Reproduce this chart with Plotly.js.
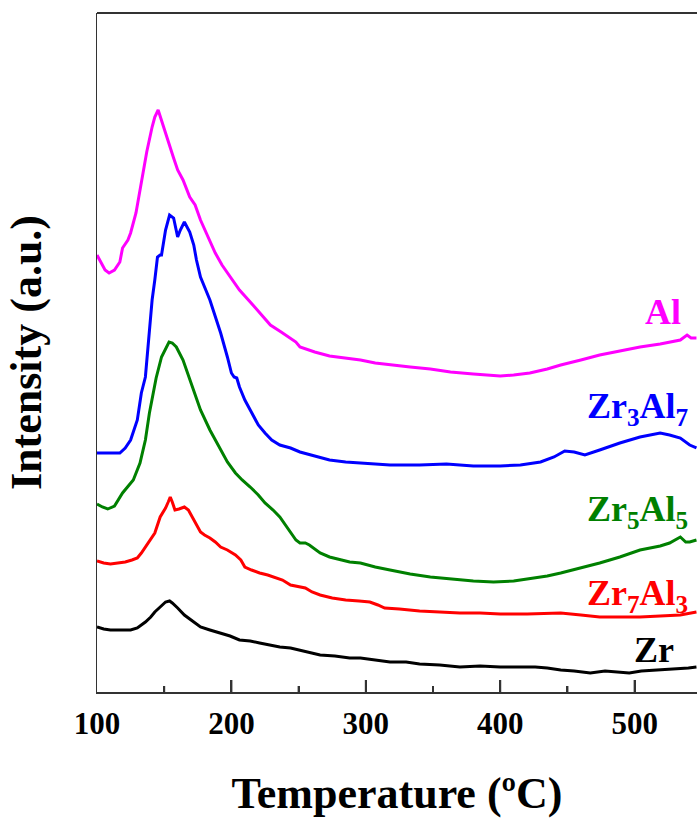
<!DOCTYPE html>
<html>
<head>
<meta charset="utf-8">
<script src="https://cdn.plot.ly/plotly-3.0.1.min.js"></script>
<style>html,body{margin:0;padding:0;background:#fff;}#chart{width:697px;height:823px;}</style>
</head>
<body>
<div id="chart"></div>
<script>
// Temperature (ºC) and intensity (a.u.) for each sample
const tAl = [100,103,106,109,113,117,119,123,125,129,133,137,141,143,145.5,149,153,157,160,164,169,173,177,182,188,193,199,206,214,221,229,237,244,248,251,262,273,285,296,307,318,333,348,363,380,400,410,422,435,445,460,474,489,504,519,534,539,542,546];
const yAl = [437,430,422,419,422,430,444,452,459,479,509,540,565,575,582,567,549,534,522,512,495,487,472,457,439,427,415,402,390,379,367,360,354,350,345,340,336,334,332,329,327,325,323,320,318,316,317,319,323,327,332,337,341,345,348,352,357,354,354];

const tZr3Al7 = [100,110,117,121,125,130,133,136,139,141,143,145,147,148,151,154,157,160,162,165,169,172,174,177,184,192,197,200,202,204,206,210,214,220,225,230,236,244,251,262,273,285,296,307,318,340,360,380,400,415,430,440,448,455,463,474,489,504,512,519,526,534,541,546];
const yZr3Al7 = [239,239,239,244,252,272,299,315,362,392,412,435,437,437,462,477,474,455,462,470,460,447,432,415,392,359,335,319,315,314,305,292,282,267,259,252,247,244,240,236,232,230,229,228,227,227,228,226,226,227,230,235,241,240,237,242,249,255,257,259,257,254,247,244];

const tZr5Al5 = [100,104,108,113,119,123,127,132,136,139,142,144,148,151,153.6,156,159,164,169,173,177,184,192,197,203,208,214,220,225,231,236,240,244,248,251,255,258,262,266,273,281,288,296,307,318,333,348,363,380,395,410,425,435,445,460,474,489,504,519,526,534,538,541,546];
const yZr5Al5 = [188,185,183,186,199,205,212,229,252,279,300,314,335,344,350,349,345,332,312,297,282,262,242,230,219,212,205,197,189,182,175,167,159,152,149,149,147,143,139,135,132,130,129,125,122,118,115,113,111,110,111,114,116,119,124,129,135,142,146,149,155,150,150,152];

const tZr7Al3 = [100,105,110,116,121,126,130,133,136,140,143,147,151,153,154.5,156,158,161,165,168,171,174,177,180,184,188,192,197,203,207,210,215,221,227,232,238,244,250,255,260,266,275,285,295,303,309,314,325,340,355,370,385,400,420,445,460,474,489,504,519,534,546];
const yZr7Al3 = [131,129,128,129,130,132,134,139,145,152,159,175,184,190,195,190,182,183,185,182,175,167,160,157,154,150,145,142,137,132,125,122,119,117,115,112,107,105,104,100,97,94,92,91,90,87,84,83,81,80,79,79,78,78,79,77,75,75,75,76,77,80];

const tZr = [100,105,110,118,125,130,136,140,143,147,151,154,156,160,165,170,177,184,192,199,206,214,221,229,236,244,251,258,266,277,288,296,307,318,330,340,355,370,385,400,415,426,435,445,455,467,478,489,496,505,519,530,540,546];
const yZr = [65,63,62,62,62,64,70,75,80,85,90,91,89,84,77,72,65,62,59,56,52,51,49,47,45,44,42,40,37,36,34,34,32,30,30,28,27,25,26,25,25,25,24,22,21,19,21,20,19,21,22,23,24,25];

const xTickVals = [100,200,300,400,500];
const xTickText = ['100','200','300','400','500'];
const xMinorVals = [150,250,350,450];

const serif = 'Liberation Serif, Times New Roman, serif';
function line(x, y, color, name) {
  return {x: x, y: y, type: 'scatter', mode: 'lines', name: name,
          line: {color: color, width: 3}, hoverinfo: 'skip'};
}
const data = [
  line(tAl, yAl, '#FF00FF', 'Al'),
  line(tZr3Al7, yZr3Al7, '#0000FF', 'Zr3Al7'),
  line(tZr5Al5, yZr5Al5, '#008000', 'Zr5Al5'),
  line(tZr7Al3, yZr7Al3, '#FF0000', 'Zr7Al3'),
  line(tZr, yZr, '#000000', 'Zr')
];

function lab(text, x, y, color, anchor) {
  return {text: text, xref: 'paper', yref: 'paper', x: x, y: y,
          xanchor: anchor, yanchor: 'middle', showarrow: false,
          font: {family: serif, size: 36, color: color, weight: 'bold'}};
}
// inside tick marks along the bottom axis, placed at the tick values
function tickShape(v, len) {
  return {type: 'line', xref: 'x', yref: 'paper', x0: v, x1: v, y0: 0, y1: len / 679,
          line: {color: '#333', width: 2}, layer: 'above'};
}
const tickShapes = xTickVals.slice(1).map(v => tickShape(v, 12))
  .concat(xMinorVals.map(v => tickShape(v, 6)));

// paper x = (px-97)/600 ; paper y = (692-py)/679
const layout = {
  width: 697, height: 823,
  margin: {l: 97, r: 0, t: 13, b: 131},
  paper_bgcolor: '#fff', plot_bgcolor: '#fff',
  showlegend: false,
  xaxis: {
    range: [100, 546.4], showgrid: false, zeroline: false,
    showline: true, linecolor: '#333', linewidth: 2,
    tickmode: 'array', tickvals: xTickVals, ticktext: xTickText,
    ticks: 'inside', ticklen: 12, tickwidth: 2, tickcolor: '#333',
    minor: {tickmode: 'array', tickvals: xMinorVals, ticks: 'inside', ticklen: 6, tickwidth: 2, tickcolor: '#333', showgrid: false},
    ticklabelstandoff: 3,
    tickfont: {family: serif, size: 31, color: '#000', weight: 'bold'},
    title: {text: 'Temperature (ºC)', font: {family: serif, size: 44, color: '#000', weight: 'bold'}, standoff: 37}
  },
  yaxis: {
    range: [0, 679], showgrid: false, zeroline: false,
    showline: true, linecolor: '#333', linewidth: 1.5,
    ticks: '', showticklabels: false,
    title: {text: 'Intensity (a.u.)', font: {family: serif, size: 44, color: '#000', weight: 'bold'}, standoff: 40}
  },
  shapes: [
    {type: 'line', xref: 'paper', yref: 'paper', x0: 0, x1: 1, y0: 1, y1: 1,
     line: {color: '#333', width: 2}}
  ].concat(tickShapes),
  annotations: [
    lab('Al', (663-97)/600, (692-312)/679, '#FF00FF', 'center'),
    lab('Zr<sub>3</sub>Al<sub>7</sub>', (585-97)/600, (692-409)/679, '#0000FF', 'left'),
    lab('Zr<sub>5</sub>Al<sub>5</sub>', (585-97)/600, (692-511)/679, '#008000', 'left'),
    lab('Zr<sub>7</sub>Al<sub>3</sub>', (585-97)/600, (692-595)/679, '#FF0000', 'left'),
    lab('Zr', (654-97)/600, (692-650)/679, '#000000', 'center')
  ]
};
Plotly.newPlot('chart', data, layout, {displayModeBar: false, staticPlot: true});
</script>
</body>
</html>
